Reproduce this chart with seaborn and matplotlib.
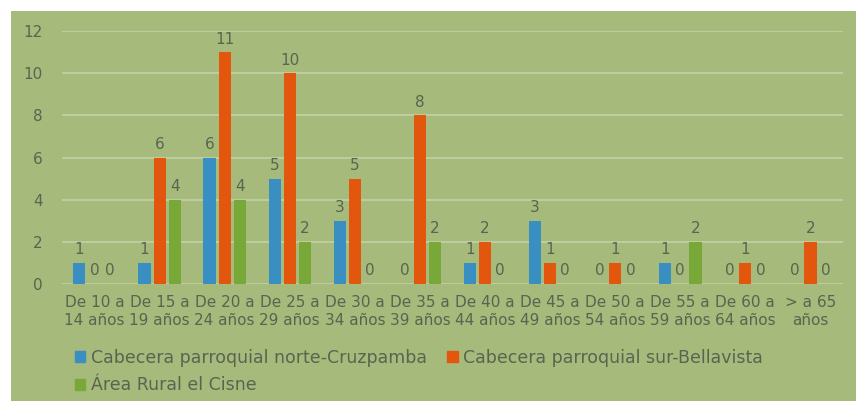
import matplotlib
matplotlib.use("Agg")
import matplotlib.pyplot as plt
import matplotlib.patches as mpatches
import seaborn as sns
import pandas as pd

categories = ["De 10 a\n14 años", "De 15 a\n19 años", "De 20 a\n24 años", "De 25 a\n29 años",
              "De 30 a\n34 años", "De 35 a\n39 años", "De 40 a\n44 años", "De 45 a\n49 años",
              "De 50 a\n54 años", "De 55 a\n59 años", "De 60 a\n64 años", "> a 65\naños"]
series_names = ["Cabecera parroquial norte-Cruzpamba",
                "Cabecera parroquial sur-Bellavista",
                "Área Rural el Cisne"]
norte = [1, 1, 6, 5, 3, 0, 1, 3, 0, 1, 0, 0]
sur = [0, 6, 11, 10, 5, 8, 2, 1, 1, 0, 1, 2]
cisne = [0, 4, 4, 2, 0, 2, 0, 0, 0, 2, 0, 0]
y_ticks = [0, 2, 4, 6, 8, 10, 12]

colors = ["#3a8fc2", "#e2560e", "#78a838"]
bg = "#a6ba7b"
text_col = "#5a6450"
grid_col = "#c3d0a6"

df = pd.DataFrame({
    "grupo": categories * 3,
    "serie": [series_names[0]] * 12 + [series_names[1]] * 12 + [series_names[2]] * 12,
    "valor": norte + sur + cisne,
})

sns.set_theme(style="white")
plt.rcParams["font.family"] = ["DejaVu Sans"]

fig = plt.figure(figsize=(8.56, 4.01), dpi=100, facecolor="white")

# green chart-area panel behind everything
bg_ax = fig.add_axes([11 / 856, 0, 1 - 11 / 856, 1 - 11 / 401], zorder=0)
bg_ax.set_facecolor(bg)
bg_ax.set_xticks([])
bg_ax.set_yticks([])
for s in bg_ax.spines.values():
    s.set_visible(False)

ax = fig.add_axes([62 / 856, 117 / 401, (843 - 62) / 856, (284 - 31) / 401], zorder=1)
ax.set_facecolor("none")

sns.barplot(data=df, x="grupo", y="valor", hue="serie", palette=colors,
            width=0.7, gap=0.2, ax=ax, legend=False, saturation=1, linewidth=0)

for cont in ax.containers:
    ax.bar_label(cont, fmt="%d", padding=4, fontsize=11, color=text_col, clip_on=False)

ax.set_ylim(0, 12)
ax.set_yticks(y_ticks)
ax.set_xlim(-0.5, 11.5)
ax.yaxis.grid(True, color=grid_col, linewidth=1.2)
ax.set_axisbelow(True)
for s in ax.spines.values():
    s.set_visible(False)
ax.tick_params(axis="both", length=0, labelsize=11, colors=text_col)
ax.tick_params(axis="y", pad=14)
ax.tick_params(axis="x", pad=8)
for t in ax.get_xticklabels():
    t.set_linespacing(1.25)
ax.set_xlabel("")
ax.set_ylabel("")

# legend: two columns, column-major order gives norte / sur on the first row
order = [0, 2, 1]
handles = [mpatches.Patch(color=colors[i]) for i in order]
labels = [series_names[i] for i in order]
leg = fig.legend(handles, labels, loc="upper left",
                 bbox_to_anchor=(68 / 856, 1 - 342 / 401), ncol=2, frameon=False,
                 fontsize=12.5, labelcolor=text_col, handlelength=0.6, handleheight=0.6,
                 handletextpad=0.3, columnspacing=1.2, borderaxespad=0, labelspacing=0.55)
leg.set_zorder(2)

fig.savefig("out.png", dpi=100, facecolor="white")
